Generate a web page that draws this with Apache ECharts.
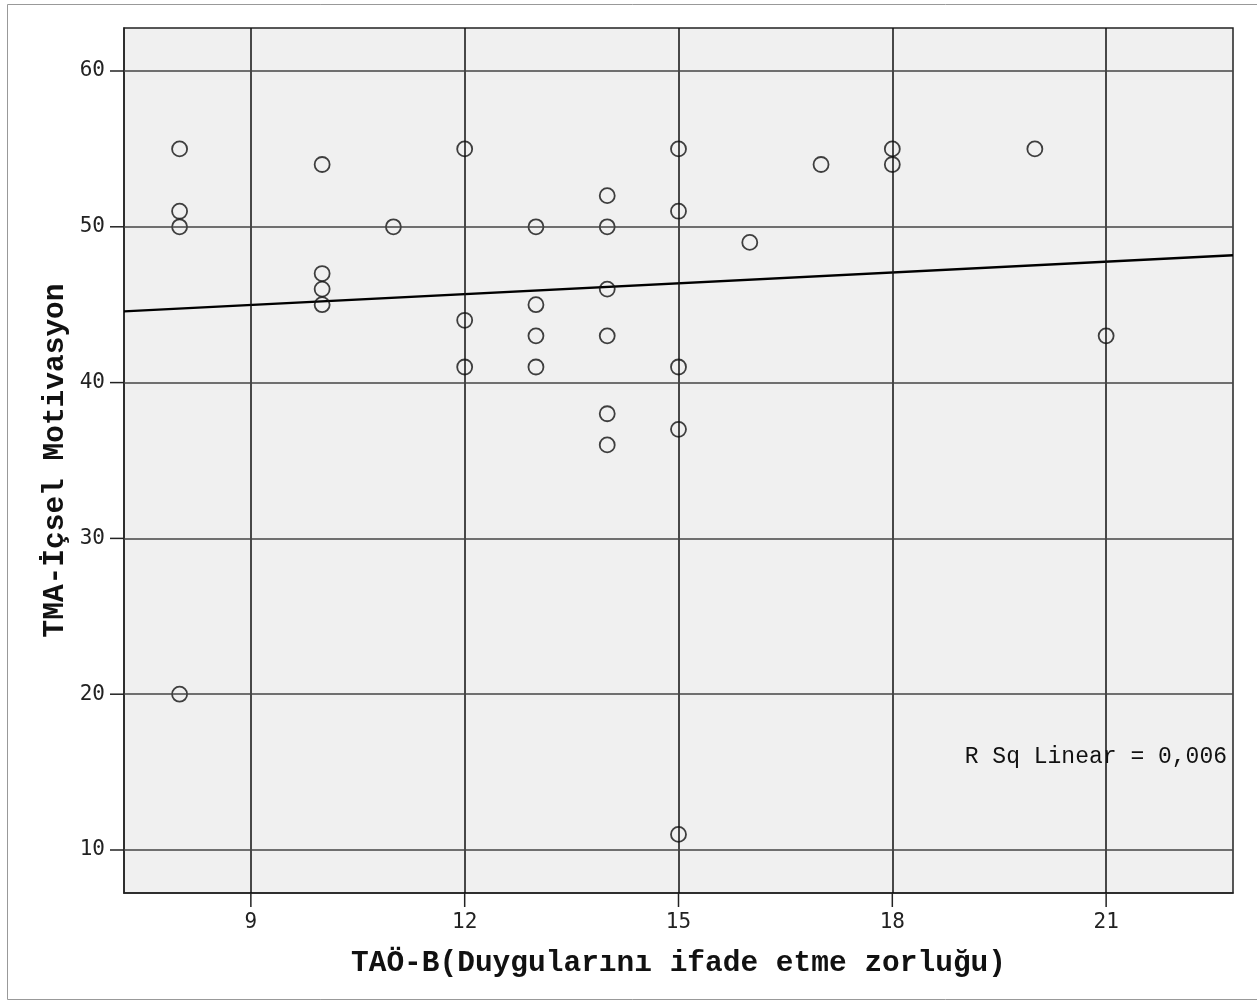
<!DOCTYPE html>
<html><head><meta charset="utf-8">
<script src="https://cdn.jsdelivr.net/npm/echarts@6/dist/echarts.min.js"></script>
<style>html,body{margin:0;padding:0;background:#fff}#c{width:1257px;height:1002px}</style>
</head><body><div id="c"></div>
<script>
const xValues = [8,8,8,8,10,10,10,10,11,12,12,12,13,13,13,13,14,14,14,14,14,14,15,15,15,15,15,16,17,18,18,20,21];
const yValues = [55,51,50,20,54,47,46,45,50,55,44,41,50,45,43,41,52,50,46,43,38,36,55,51,41,37,11,49,54,55,54,55,43];
const fitX = [7.22, 22.78];
const fitY = [44.57, 48.17];
const xTicks = [9,12,15,18,21];
const yTicks = [10,20,30,40,50,60];
const xTitle = 'TAÖ-B(Duygularını ifade etme zorluğu)';
const yTitle = 'TMA-İçsel Motivasyon';
const rsqText = 'R Sq Linear = 0,006';

const X_MIN = 7.22, X_MAX = 22.78, Y_MIN = 7.24, Y_MAX = 62.76;
const TICK_LEN = 14;

const chart = echarts.init(document.getElementById('c'), null, {renderer:'canvas'});
const tickFont = {fontFamily:'DejaVu Sans Mono', fontSize:21, color:'#222'};
// [x, y] positions on the axis lines; third field: 0 = x-axis tick, 1 = y-axis tick
const tickData = xTicks.map(v=>[v, Y_MIN, 0]).concat(yTicks.map(v=>[X_MIN, v, 1]));
chart.setOption({
  animation:false,
  backgroundColor:'#fff',
  grid:{left:124, right:24, top:28, bottom:109, show:true, backgroundColor:'#f0f0f0', borderColor:'#222', borderWidth:1.5},
  xAxis:{type:'value', min:X_MIN, max:X_MAX,
    name:xTitle, nameLocation:'middle', nameGap:56,
    nameTextStyle:{fontFamily:'Liberation Mono', fontWeight:'bold', fontSize:29.5, color:'#111'},
    axisLine:{show:true, lineStyle:{color:'#222', width:1.5}},
    axisTick:{show:false, customValues:xTicks},
    axisLabel:{customValues:xTicks, margin:19, ...tickFont},
    splitLine:{show:false}},
  yAxis:{type:'value', min:Y_MIN, max:Y_MAX,
    name:yTitle, nameLocation:'middle', nameGap:53, nameRotate:90, nameMoveOverlap:false,
    nameTextStyle:{fontFamily:'Liberation Mono', fontWeight:'bold', fontSize:29.5, color:'#111'},
    axisLine:{show:true, lineStyle:{color:'#222', width:1.5}},
    axisTick:{show:false, customValues:yTicks},
    axisLabel:{customValues:yTicks, margin:19, ...tickFont},
    splitLine:{show:false}},
  graphic:[
    {type:'rect', shape:{x:7.5, y:4.5, width:1260, height:995}, style:{fill:null, stroke:'#999', lineWidth:1}, silent:true, z:-10},
    {type:'text', right:30, top:745, style:{text:rsqText, fontFamily:'Liberation Mono', fontSize:23, fill:'#111'}, z:100}
  ],
  series:[
    {type:'line', data:[], markLine:{silent:true, symbol:'none', label:{show:false},
      lineStyle:{color:'#111', width:1.5, type:'solid'},
      data: xTicks.map(v=>({xAxis:v})).concat(yTicks.map(v=>({yAxis:v, lineStyle:{color:'#444', width:1.5}})))}, z:1},
    {type:'custom', clip:false, silent:true, data:tickData, z:2,
      encode:{x:0, y:1},
      renderItem:function(params, api){
        const p = api.coord([api.value(0), api.value(1)]);
        const kind = api.value(2);
        const q = kind === 0 ? [p[0], p[1] + TICK_LEN] : [p[0] - TICK_LEN, p[1]];
        return {type:'line', shape:{x1:p[0], y1:p[1], x2:q[0], y2:q[1]}, style:{stroke:'#222', lineWidth:1.5}};
      }},
    {type:'line', data:fitX.map((x,i)=>[x,fitY[i]]), symbol:'none', lineStyle:{color:'#000', width:2.4}, z:3},
    {type:'scatter', data:xValues.map((x,i)=>[x,yValues[i]]), symbol:'circle', symbolSize:15,
      itemStyle:{color:'rgba(0,0,0,0)', borderColor:'#111', borderWidth:1.8}, z:4}
  ]
});
</script></body></html>
